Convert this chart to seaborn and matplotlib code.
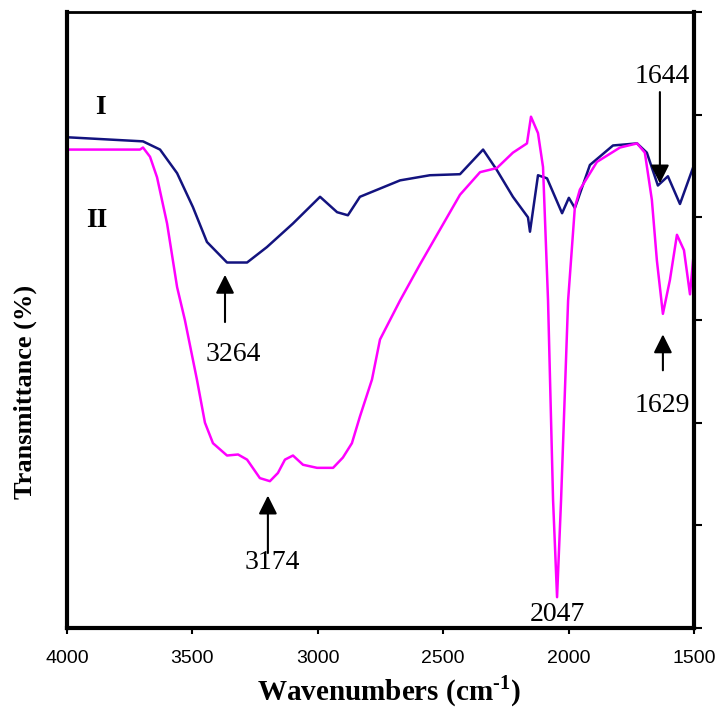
import numpy as np
import pandas as pd
import matplotlib
matplotlib.use("Agg")
import matplotlib.pyplot as plt
import seaborn as sns

sns.set_theme(style="white")
plt.rcParams['font.family'] = ['Liberation Serif', 'DejaVu Serif']
plt.rcParams['text.color'] = 'black'
plt.rcParams['axes.labelcolor'] = 'black'
plt.rcParams['xtick.color'] = 'black'
plt.rcParams['ytick.color'] = 'black'
plt.rcParams['mathtext.fontset'] = 'custom'
plt.rcParams['mathtext.rm'] = 'Liberation Serif'
plt.rcParams['mathtext.bf'] = 'Liberation Serif:bold'

# curve I (navy) - wavenumber / transmittance
wn_1 = [4000, 3697, 3629, 3561, 3498, 3442, 3362, 3282, 3203, 3099, 2991, 2923,
        2880, 2832, 2672, 2553, 2433, 2341, 2286, 2222, 2162, 2154, 2122, 2086,
        2026, 1999, 1975, 1915, 1823, 1727, 1688, 1644, 1604, 1556, 1500]
tr_1 = [47.8, 47.4, 46.6, 44.3, 41.0, 37.6, 35.6, 35.6, 37.1, 39.4, 42.0, 40.5,
        40.2, 42.0, 43.6, 44.1, 44.2, 46.6, 44.6, 42.0, 40.0, 38.6, 44.1, 43.8,
        40.4, 41.9, 40.9, 45.1, 47.0, 47.2, 46.3, 43.1, 44.0, 41.3, 45.1]

# curve II (magenta)
wn_2 = [4000, 3868, 3709, 3697, 3669, 3641, 3601, 3561, 3530, 3482, 3450, 3418,
        3362, 3318, 3282, 3231, 3191, 3159, 3131, 3099, 3059, 3003, 2939, 2900,
        2864, 2832, 2784, 2752, 2672, 2593, 2513, 2433, 2353, 2286, 2222, 2166,
        2150, 2122, 2102, 2082, 2062, 2046, 2030, 2002, 1975, 1955, 1887, 1795,
        1727, 1696, 1668, 1648, 1624, 1596, 1568, 1540, 1516, 1500]
tr_2 = [46.6, 46.6, 46.6, 46.8, 45.9, 43.9, 39.4, 33.2, 30.0, 24.2, 20.0, 18.0,
        16.8, 16.9, 16.4, 14.6, 14.3, 15.1, 16.4, 16.8, 15.9, 15.6, 15.6, 16.6,
        18.0, 20.6, 24.2, 28.1, 31.9, 35.4, 38.8, 42.2, 44.4, 44.8, 46.3, 47.2,
        49.8, 48.2, 44.9, 31.9, 12.5, 3.0, 12.5, 31.9, 41.0, 42.7, 45.4, 46.8,
        47.2, 46.3, 41.7, 35.8, 30.6, 33.9, 38.3, 36.8, 32.5, 36.8]

# peak annotations: label, text position, arrow tail, arrow head
peak_labels = ["3264", "3174", "2047", "1644", "1629"]
peak_text_xy = [(3338, 26.6), (3183, 6.4), (2046, 1.3), (1628, 53.7), (1628, 21.7)]
peak_arrows = [((3370, 29.8), (3370, 34.4)),
               ((3199, 7.3), (3199, 12.9)),
               None,
               ((1636, 52.2), (1636, 43.3)),
               ((1624, 25.1), (1624, 28.6))]

df1 = pd.DataFrame({"wn": wn_1, "tr": tr_1})
df2 = pd.DataFrame({"wn": wn_2, "tr": tr_2})

fig = plt.figure(figsize=(7.2, 7.17), dpi=100)
ax = fig.add_axes([67 / 720, 89 / 717, 627 / 720, 616 / 717])

sns.lineplot(data=df1, x="wn", y="tr", ax=ax, color="#13137f", lw=1.8)
sns.lineplot(data=df2, x="wn", y="tr", ax=ax, color="#ff00ff", lw=1.8)

ax.set_xlim(4000, 1500)
ax.set_ylim(0, 60)
ax.set_xticks([4000, 3500, 3000, 2500, 2000, 1500])
ax.set_yticks(np.arange(0, 61, 10))
ax.yaxis.tick_right()
ax.tick_params(axis='y', which='both', right=True, left=False, direction='out',
               length=6, width=1.5, labelright=False)
ax.tick_params(axis='x', bottom=True, direction='out', length=4.5, width=1.5,
               pad=11)
for lbl in ax.get_xticklabels():
    lbl.set_fontfamily(['Liberation Sans', 'DejaVu Sans'])
    lbl.set_fontsize(14)

for side in ['left', 'bottom', 'right']:
    ax.spines[side].set_linewidth(3)
    ax.spines[side].set_color('black')
ax.spines['top'].set_linewidth(2)
ax.spines['top'].set_color('black')

ax.set_xlabel("Wavenumbers (cm$^{\\mathbf{\\text{-}1}}$)", fontsize=21, fontweight='bold')
ax.set_ylabel("Transmittance (%)", fontsize=19, fontweight='bold')
ax.xaxis.set_label_coords(0.514, -0.074)
ax.yaxis.set_label_coords(-0.048, 0.383)

ax.text(3868, 50.7, "I", fontsize=20, fontweight='bold', ha='center', va='center')
ax.text(3880, 39.7, "II", fontsize=20, fontweight='bold', ha='center', va='center')

for lab, txy, arr in zip(peak_labels, peak_text_xy, peak_arrows):
    ax.text(txy[0], txy[1], lab, fontsize=20, ha='center', va='center')
    if arr is not None:
        ax.annotate("", xy=arr[1], xytext=arr[0],
                    arrowprops=dict(arrowstyle='-|>', color='black', lw=1.5,
                                    mutation_scale=28, shrinkA=0, shrinkB=0))

plt.savefig("out.png", dpi=100)
